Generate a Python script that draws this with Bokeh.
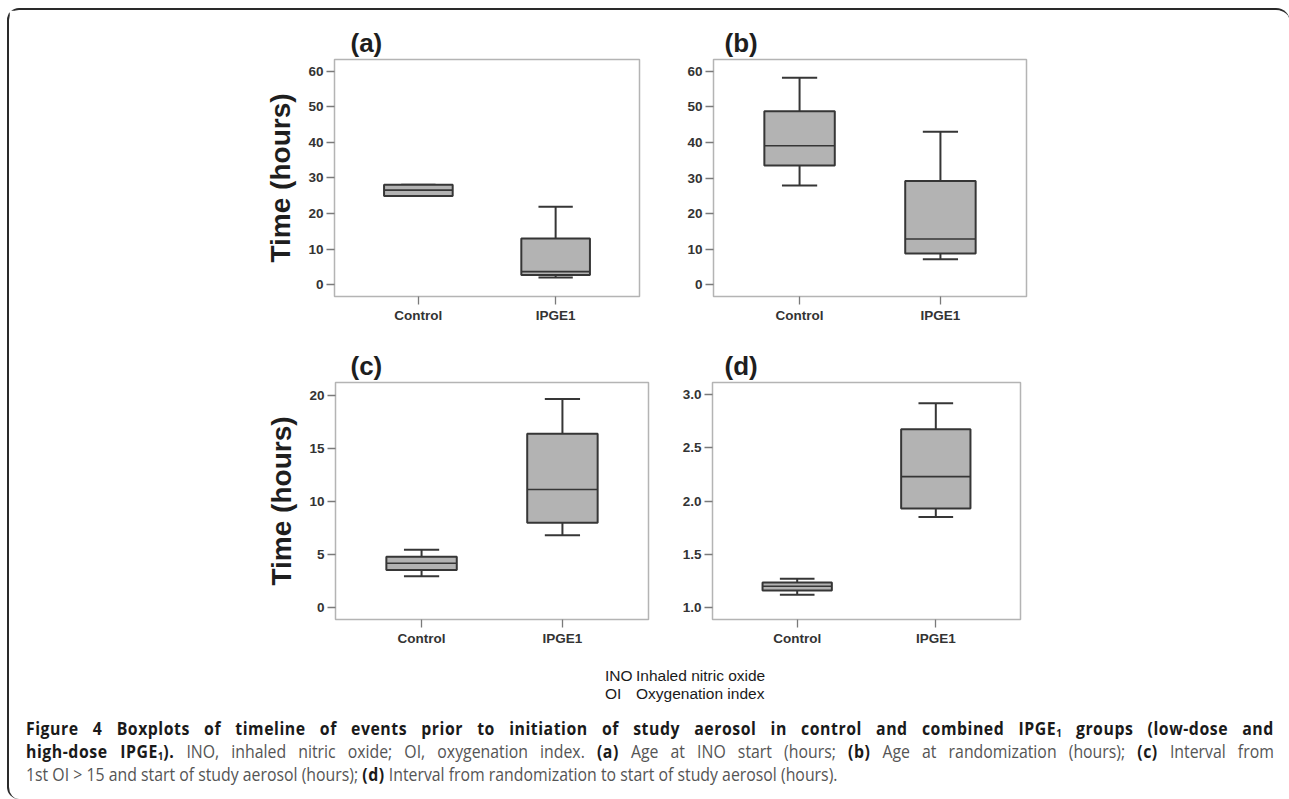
from bokeh.plotting import figure
from bokeh.layouts import row, column
from bokeh.models import Range1d, FixedTicker, Div, NumeralTickFormatter
from bokeh.embed import file_html
from bokeh.resources import INLINE

groups = ["Control", "IPGE1"]

# (a) Age at INO start (hours)
a_low = [24.9, 1.96]
a_q1 = [24.9, 2.71]
a_med = [26.55, 3.63]
a_q3 = [28.06, 12.97]
a_high = [28.06, 21.9]

# (b) Age at randomization (hours)
b_low = [27.9, 7.2]
b_q1 = [33.5, 8.8]
b_med = [39.1, 12.9]
b_q3 = [48.8, 29.2]
b_high = [58.2, 43.0]

# (c) Interval from 1st OI > 15 to start of study aerosol (hours)
c_low = [2.98, 6.83]
c_q1 = [3.57, 8.01]
c_med = [4.19, 11.12]
c_q3 = [4.81, 16.37]
c_high = [5.46, 19.63]

# (d) Interval from randomization to start of study aerosol (hours)
d_low = [1.12, 1.85]
d_q1 = [1.16, 1.93]
d_med = [1.20, 2.23]
d_q3 = [1.235, 2.674]
d_high = [1.27, 2.92]

ticks_ab = [0, 10, 20, 30, 40, 50, 60]
ticks_c = [0, 5, 10, 15, 20]
ticks_d = [1.0, 1.5, 2.0, 2.5, 3.0]

FONT = "Liberation Sans"
BOX_FILL = "#b3b3b3"
DARK = "#363636"


def panel(tag, low, q1, med, q3, high, yr, yticks, width, height,
          bl, br, bt, bb, toff, ylabel, fmt=None):
    p = figure(width=width, height=height, output_backend="svg",
               toolbar_location=None, x_range=Range1d(0.389, 2.611),
               y_range=Range1d(*yr), min_border_left=bl, min_border_right=br,
               min_border_top=bt, min_border_bottom=bb)
    xs = [i + 1 for i in range(len(groups))]
    bw, cw = 0.5, 0.25
    # whiskers
    p.segment(x0=xs, x1=xs, y0=q3, y1=high, line_color=DARK, line_width=2)
    p.segment(x0=xs, x1=xs, y0=low, y1=q1, line_color=DARK, line_width=2)
    p.segment(x0=[x - cw / 2 for x in xs], x1=[x + cw / 2 for x in xs],
              y0=high, y1=high, line_color=DARK, line_width=2)
    p.segment(x0=[x - cw / 2 for x in xs], x1=[x + cw / 2 for x in xs],
              y0=low, y1=low, line_color=DARK, line_width=2)
    # boxes
    p.vbar(x=xs, width=bw, bottom=q1, top=q3, fill_color=BOX_FILL,
           line_color=DARK, line_width=2)
    p.segment(x0=[x - bw / 2 for x in xs], x1=[x + bw / 2 for x in xs],
              y0=med, y1=med, line_color=DARK, line_width=1.6)

    p.xgrid.visible = False
    p.ygrid.visible = False
    p.outline_line_color = "#b4b4b4"
    p.outline_line_width = 1.5
    p.background_fill_color = "white"
    p.border_fill_color = "white"

    p.xaxis.ticker = FixedTicker(ticks=xs)
    p.xaxis.major_label_overrides = {x: g for x, g in zip(xs, groups)}
    p.yaxis.ticker = FixedTicker(ticks=yticks)
    if fmt:
        p.yaxis.formatter = NumeralTickFormatter(format=fmt)
    for ax in (p.xaxis, p.yaxis):
        ax.axis_line_color = None
        ax.major_tick_line_color = "#7a7a7a"
        ax.major_tick_line_width = 1.3
        ax.major_tick_in = 0
        ax.major_tick_out = 8
        ax.minor_tick_line_color = None
        ax.major_label_text_font = FONT
        ax.major_label_text_font_style = "bold"
        ax.major_label_text_font_size = "13.5px"
        ax.major_label_text_color = "#333333"
        ax.major_label_standoff = 3
    if ylabel:
        p.yaxis.axis_label = "Time (hours)"
        p.yaxis.axis_label_text_font = FONT
        p.yaxis.axis_label_text_font_style = "bold"
        p.yaxis.axis_label_text_font_size = "28px"
        p.yaxis.axis_label_text_color = "#1e1e1e"
        p.yaxis.axis_label_standoff = 9

    p.title.text = tag
    p.title.text_font = FONT
    p.title.text_font_style = "bold"
    p.title.text_font_size = "26px"
    p.title.text_color = "#1e1e1e"
    p.title.align = "left"
    p.title.offset = toff
    p.title.standoff = 4
    return p


pa = panel("(a)", a_low, a_q1, a_med, a_q3, a_high, (-3.35, 63.27), ticks_ab,
           660, 327, 325, 30, 49, 39, 16, True)
pb = panel("(b)", b_low, b_q1, b_med, b_q3, b_high, (-3.25, 63.3), ticks_ab,
           611, 327, 44, 254, 47, 41, 11, False)
pc = panel("(c)", c_low, c_q1, c_med, c_q3, c_high, (-1.09, 21.18), ticks_c,
           660, 315, 326, 21, 45, 31, 15, True)
pd_ = panel("(d)", d_low, d_q1, d_med, d_q3, d_high, (0.888, 3.114), ticks_d,
            611, 315, 43, 260, 43, 33, 12, False, fmt="0.0")

legend_html = (
    '<div style="font-family:\'Liberation Sans\'; font-size:15.5px; color:#1a1a1a; '
    'line-height:18px; margin:10px 0 0 591px;">'
    '<table style="border-collapse:collapse;"><tr>'
    '<td style="padding:0; width:31px;">INO</td><td style="padding:0;">Inhaled nitric oxide</td></tr>'
    '<tr><td style="padding:0;">OI</td><td style="padding:0;">Oxygenation index</td></tr></table></div>'
)

B = '<b style="color:#1a1a1a; font-weight:700; letter-spacing:0.6px;">'
SUB = ('<span style="font-size:11px; line-height:11px; vertical-align:-2px; '
       'letter-spacing:0;">1</span>')
line1 = (B + 'Figure 4 Boxplots of timeline of events prior to initiation of study aerosol in '
         'control and combined IPGE' + SUB + ' groups (low-dose and</b>')
line2 = (B + 'high-dose IPGE' + SUB + ').</b> INO, inhaled nitric oxide; OI, '
         'oxygenation index. ' + B + '(a)</b> Age at INO start (hours; ' + B + '(b)</b> Age at '
         'randomization (hours); ' + B + '(c)</b> Interval from')
line3 = ('1st OI &gt; 15 and start of study aerosol (hours); ' + B + '(d)</b> Interval from '
         'randomization to start of study aerosol (hours).')

SC = 0.88
line_style = ("width:%dpx; text-align:justify; text-align-last:justify; "
              "height:23px; line-height:23px;" % round(1248 / SC))
caption_html = (
    '<div style="margin:14px 0 0 12px; transform:scaleX(%.2f); transform-origin:left top; '
    'font-family:\'Open Sans\'; font-size:18px; color:#555555;">' % SC
    + '<div style="%s">%s</div>' % (line_style, line1)
    + '<div style="%s">%s</div>' % (line_style, line2)
    + '<div style="width:%dpx; height:23px; line-height:23px; text-align:left;">%s</div>'
    % (round(1248 / SC), line3)
    + '</div>'
)

cap = Div(text=legend_html + caption_html, width=1271, height=137)

layout = column(row(pa, pb), row(pc, pd_), cap,
                styles={"border-top": "2px solid #2a2a2a",
                        "border-left": "2px solid #2a2a2a",
                        "border-radius": "12px 14px 0 12px",
                        "margin-top": "8px", "margin-left": "7px"})

open("out.html", "w").write(file_html(layout, INLINE))
